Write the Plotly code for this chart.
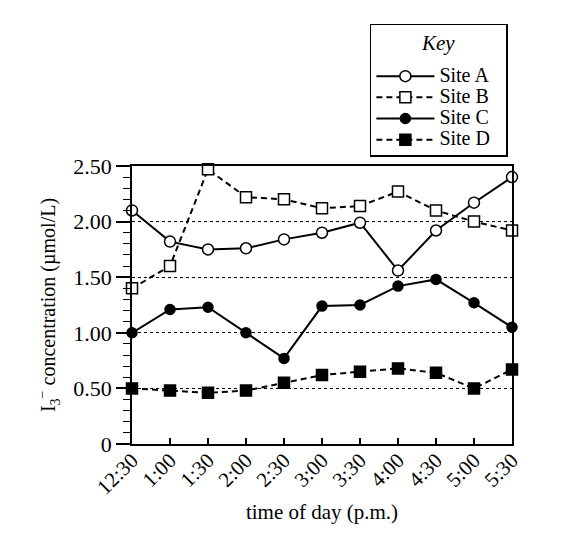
import plotly.graph_objects as go

times = ["12:30", "1:00", "1:30", "2:00", "2:30", "3:00",
         "3:30", "4:00", "4:30", "5:00", "5:30"]

site_a = [2.10, 1.82, 1.75, 1.76, 1.84, 1.90, 1.99, 1.56, 1.92, 2.17, 2.40]
site_b = [1.40, 1.60, 2.47, 2.22, 2.20, 2.12, 2.14, 2.27, 2.10, 2.00, 1.92]
site_c = [1.00, 1.21, 1.23, 1.00, 0.77, 1.24, 1.25, 1.42, 1.48, 1.27, 1.05]
site_d = [0.50, 0.48, 0.46, 0.48, 0.55, 0.62, 0.65, 0.68, 0.64, 0.50, 0.67]

y_ticks = [0, 0.5, 1.0, 1.5, 2.0, 2.5]
y_labels = ["0", "0.50", "1.00", "1.50", "2.00", "2.50"]

font = "Liberation Serif, Times New Roman, serif"

# name, values, dash, symbol, fill, size
series = [
    ("Site A", site_a, "solid", "circle", "white", 11),
    ("Site B", site_b, "6px,4px", "square", "white", 11),
    ("Site C", site_c, "solid", "circle", "black", 10),
    ("Site D", site_d, "6px,4px", "square", "black", 11),
]

fig = go.Figure()
for name, vals, dash, sym, fill, size in series:
    fig.add_trace(go.Scatter(
        x=times, y=vals, mode="lines+markers",
        # big text but tight rows in the key
        name='<span style="font-size:20px">%s</span>\u00a0\u00a0\u00a0' % name,
        line=dict(color="black", width=2, dash=dash),
        marker=dict(symbol=sym, size=size, color=fill,
                    line=dict(color="black", width=1.5)),
        cliponaxis=False,
    ))

fig.update_layout(
    width=578, height=533,
    margin=dict(l=132, r=66, t=166, b=89),
    paper_bgcolor="white", plot_bgcolor="white",
    font=dict(family=font, size=20, color="black"),
    showlegend=True,
    legend=dict(
        x=0.626, y=1.511, xanchor="left", yanchor="top",
        bordercolor="black", borderwidth=1.5, bgcolor="white",
        # blank title only reserves room; "Key" is an annotation below
        title=dict(text="\u00a0", side="top",
                   font=dict(family=font, size=27)),
        font=dict(family=font, size=14),
        tracegroupgap=0, itemwidth=58,
    ),
    annotations=[dict(
        text="<i>Key</i>", xref="paper", yref="paper",
        x=0.805, y=1.442, xanchor="center", yanchor="middle",
        showarrow=False, font=dict(family=font, size=21),
    )],
)

fig.update_xaxes(
    type="category", range=[0, 10],
    showline=True, linecolor="black", linewidth=1.5, mirror=True,
    ticks="inside", ticklen=6, tickcolor="black", tickwidth=1.5,
    tickangle=-45, tickfont=dict(family=font, size=21),
    ticklabelstandoff=-6,
    showgrid=False, zeroline=False,
    title=dict(text="time of day (p.m.)", font=dict(family=font, size=21),
               standoff=6),
)

fig.update_yaxes(
    range=[0, 2.5], tickvals=y_ticks, ticktext=y_labels,
    showline=True, linecolor="black", linewidth=1.5, mirror=True,
    ticks="outside", ticklen=14, tickcolor="black", tickwidth=1.5,
    minor=dict(dtick=0.1, ticks="outside", ticklen=7,
               tickcolor="black", tickwidth=1, showgrid=False),
    showgrid=True, gridcolor="black", gridwidth=1, griddash="dot",
    zeroline=False, tickfont=dict(family=font, size=22),
    title=dict(text="I<sub>3</sub><sup>\u2212</sup> concentration (\u00b5mol/L)",
               font=dict(family=font, size=20), standoff=12),
)

fig.write_html("out.html", config={"displayModeBar": False},
               post_script="document.body.style.margin='0';")
